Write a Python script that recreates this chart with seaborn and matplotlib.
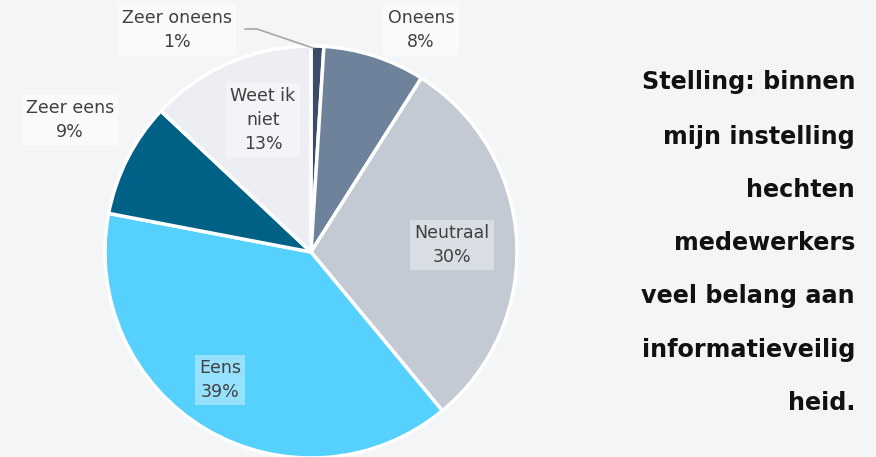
import matplotlib
matplotlib.use("Agg")
import matplotlib.pyplot as plt
import seaborn as sns

# ---- data ----
categories = ["Zeer oneens", "Oneens", "Neutraal", "Eens", "Zeer eens", "Weet ik niet"]
label_texts = ["Zeer oneens", "Oneens", "Neutraal", "Eens", "Zeer eens", "Weet ik\nniet"]
percentages = [1, 8, 30, 39, 9, 13]
statement_lines = ["Stelling: binnen", "mijn instelling", "hechten", "medewerkers",
                   "veel belang aan", "informatieveilig", "heid."]

# ---- styles ----
colors = ["#3b4d66", "#6e829b", "#c3cad4", "#56d0fc", "#006187", "#eceef3"]
bg = "#f4f5f7"
label_pos = [(-0.65, 1.078), (0.534, 1.078), (0.684, 0.034), (-0.442, -0.621),
             (-1.17, 0.641), (-0.233, 0.641)]

sns.set_theme(style="white")
plt.rcParams["font.family"] = ["DejaVu Sans"]

W, H = 876, 457
fig = plt.figure(figsize=(W / 100, H / 100), dpi=100, facecolor=bg)
cx, cy, r = 311, 252, 206
ax = fig.add_axes([(cx - r) / W, (H - cy - r) / H, 2 * r / W, 2 * r / H])
ax.set_facecolor(bg)
ax.patch.set_alpha(0)

wedges, _ = ax.pie(percentages, colors=colors, startangle=90, counterclock=False,
                   radius=1.0, center=(0, 0),
                   wedgeprops=dict(edgecolor="white", linewidth=2.5))
ax.set_xlim(-1, 1)
ax.set_ylim(-1, 1)
ax.set_aspect("auto")
ax.axis("off")

for i, (name, txt, p) in enumerate(zip(categories, label_texts, percentages)):
    x, y = label_pos[i]
    outside = name in ("Zeer oneens", "Oneens", "Zeer eens")
    fc = (1, 1, 1, 0.55) if outside else (1, 1, 1, 0.38)
    ax.text(x, y, f"{txt}\n{p}%", ha="center", va="center", fontsize=12.5,
            color="#404040", linespacing=1.42, clip_on=False,
            bbox=dict(boxstyle="square,pad=0.25", fc=fc, ec="none"))

# leader line for the small slice
def px(xp, yp):
    return ((xp - cx) / r, (cy - yp) / r)
p1, p2, p3 = px(245, 29), px(257, 29), px(313, 48)
ax.plot([p1[0], p2[0], p3[0]], [p1[1], p2[1], p3[1]], color="#a6a6a6",
        lw=1.2, clip_on=False)

# statement text on the right
line_y = [82, 137, 190, 243, 296, 350, 403]
for line, yy in zip(statement_lines, line_y):
    fig.text(855 / W, 1 - yy / H, line, ha="right", va="center",
             fontsize=17.2, fontweight="bold", color="#111111")

fig.savefig("out.png", dpi=100, facecolor=bg)
